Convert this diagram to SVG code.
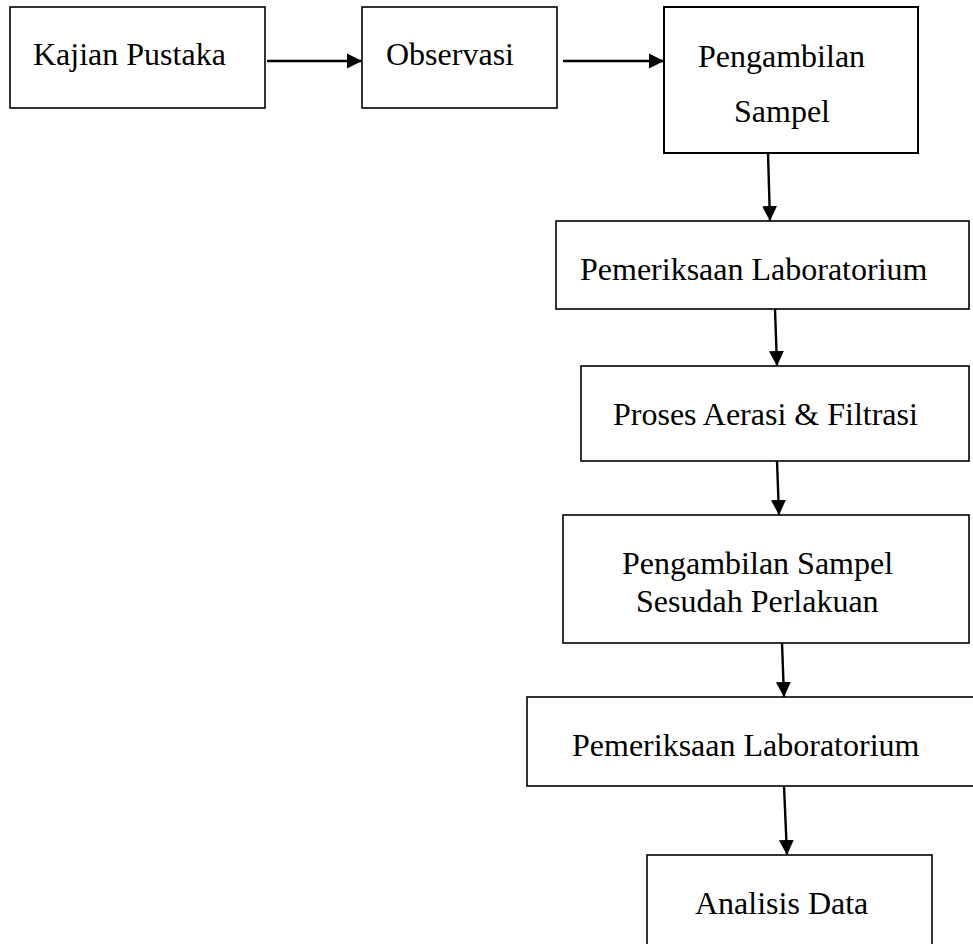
<svg xmlns="http://www.w3.org/2000/svg" width="973" height="944" viewBox="0 0 973 944">
<defs>
<marker id="ah" markerUnits="userSpaceOnUse" markerWidth="16" markerHeight="16" viewBox="0 0 16 16" refX="15" refY="8" orient="auto">
<path d="M0,0.5 L15,8 L0,15.5 Z" fill="#000"/>
</marker>
<style>
.box{fill:#fff;stroke:#000;stroke-width:1.6}
.t{font-family:"Liberation Serif","Times New Roman",serif;font-size:32px;fill:#000}
.c{stroke:#000;stroke-width:2.4;fill:none}
</style>
</defs>
<rect width="973" height="944" fill="#fff"/>
<g id="n1"><rect class="box" x="10" y="7" width="255" height="101"/><text class="t" x="33" y="65">Kajian Pustaka</text></g>
<g id="n2"><rect class="box" x="362" y="7" width="195" height="101"/><text class="t" x="386" y="65">Observasi</text></g>
<g id="n3"><rect class="box" x="664" y="7" width="254" height="146" style="stroke-width:2"/><text class="t" x="698" y="67">Pengambilan</text><text class="t" x="734" y="122">Sampel</text></g>
<g id="n4"><rect class="box" x="556" y="221" width="413" height="88"/><text class="t" x="580" y="280">Pemeriksaan Laboratorium</text></g>
<g id="n5"><rect class="box" x="581" y="366" width="388" height="95"/><text class="t" x="613" y="425">Proses Aerasi &amp; Filtrasi</text></g>
<g id="n6"><rect class="box" x="563" y="515" width="406" height="128"/><text class="t" x="622" y="574">Pengambilan Sampel</text><text class="t" x="636" y="612">Sesudah Perlakuan</text></g>
<g id="n7"><rect class="box" x="527" y="697" width="460" height="89"/><text class="t" x="572" y="756">Pemeriksaan Laboratorium</text></g>
<g id="n8"><rect class="box" x="647" y="855" width="285" height="110"/><text class="t" x="695" y="914">Analisis Data</text></g>
<g id="connectors">
<line class="c" x1="267" y1="61" x2="362" y2="61" marker-end="url(#ah)"/>
<line class="c" x1="563" y1="61" x2="664" y2="61" marker-end="url(#ah)"/>
<line class="c" x1="768" y1="153" x2="770" y2="221" marker-end="url(#ah)"/>
<line class="c" x1="775" y1="309" x2="777" y2="366" marker-end="url(#ah)"/>
<line class="c" x1="777" y1="461" x2="779" y2="515" marker-end="url(#ah)"/>
<line class="c" x1="782" y1="643" x2="784" y2="697" marker-end="url(#ah)"/>
<line class="c" x1="784" y1="786" x2="787" y2="855" marker-end="url(#ah)"/>
</g>
</svg>
